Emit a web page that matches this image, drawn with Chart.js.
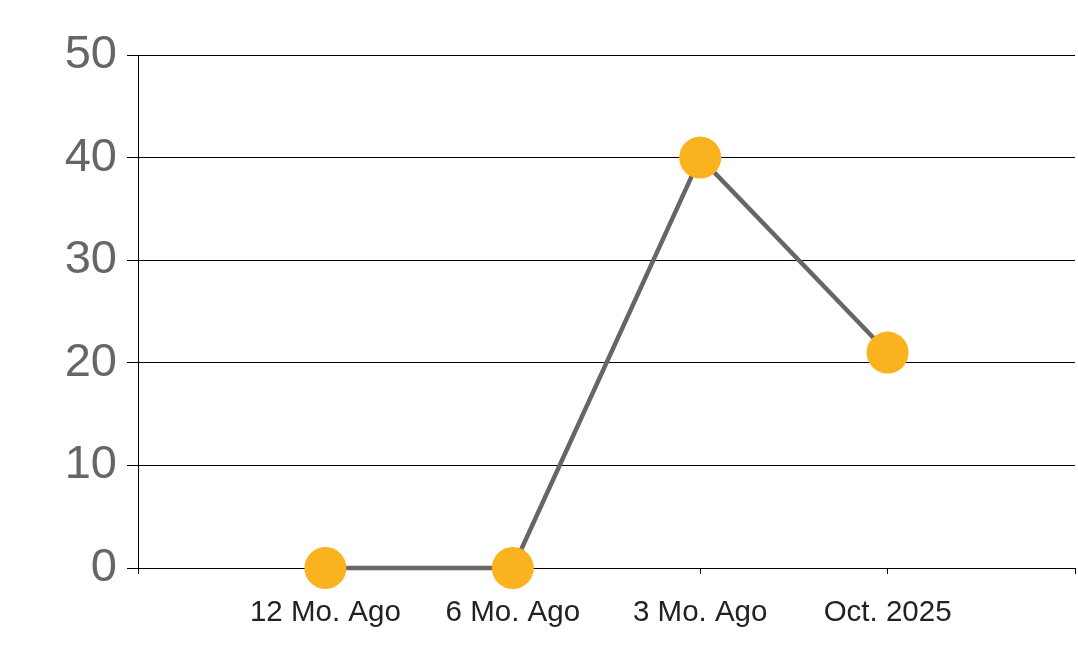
<!DOCTYPE html>
<html>
<head>
<meta charset="utf-8">
<script src="https://cdn.jsdelivr.net/npm/chart.js@4/dist/chart.umd.min.js"></script>
<style>
    html, body { margin: 0; padding: 0; background: #fff; }
    #wrap { width: 1078px; height: 663px; }
</style>
</head>
<body>
<div id="wrap"><canvas id="trendChart" width="1078" height="663"></canvas></div>
<script>
// Categories (blank slots at both ends give the empty edge segments)
const periods = ['', '12 Mo. Ago', '6 Mo. Ago', '3 Mo. Ago', 'Oct. 2025', ''];
const counts = [null, 0, 0, 40, 21, null];
const yTicks = [0, 10, 20, 30, 40, 50];

document.addEventListener('DOMContentLoaded', function() {
    const ctx = document.getElementById('trendChart').getContext('2d');

    new Chart(ctx, {
        type: 'line',
        data: {
            labels: periods,
            datasets: [{
                data: counts,
                borderColor: '#666666',
                borderWidth: 4.5,
                pointBackgroundColor: '#FAB31E',
                pointBorderColor: '#FAB31E',
                pointBorderWidth: 0,
                pointRadius: 21,
                pointHoverRadius: 21,
                tension: 0,
                clip: false
            }]
        },
        options: {
            responsive: false,
            animation: false,
            layout: { autoPadding: false, padding: { top: 55, right: 3, left: 0, bottom: 0 } },
            plugins: {
                legend: { display: false },
                tooltip: { enabled: false }
            },
            scales: {
                x: {
                    type: 'category',
                    offset: false,
                    grid: {
                        drawOnChartArea: false,
                        drawTicks: true,
                        tickLength: 6,
                        color: '#000'
                    },
                    border: { display: true, color: '#000', width: 1 },
                    ticks: {
                        autoSkip: false,
                        maxRotation: 0,
                        padding: 21,
                        color: '#222',
                        font: { family: 'Liberation Sans, Arial, sans-serif', size: 29.5 }
                    },
                    afterFit: function(scale) {
                        scale.height = 95;
                        scale.paddingLeft = 0;
                        scale.paddingRight = 0;
                    }
                },
                y: {
                    min: 0,
                    max: 50,
                    afterBuildTicks: function(scale) {
                        scale.ticks = yTicks.map(v => ({ value: v }));
                    },
                    grid: {
                        color: '#000',
                        lineWidth: 1,
                        drawTicks: true,
                        tickLength: 11
                    },
                    border: { display: true, color: '#000', width: 1 },
                    ticks: {
                        padding: 10,
                        color: '#666',
                        font: { family: 'Liberation Sans, Arial, sans-serif', size: 47 }
                    },
                    afterFit: function(scale) { scale.width = 138; }
                }
            }
        }
    });
});
</script>
</body>
</html>
